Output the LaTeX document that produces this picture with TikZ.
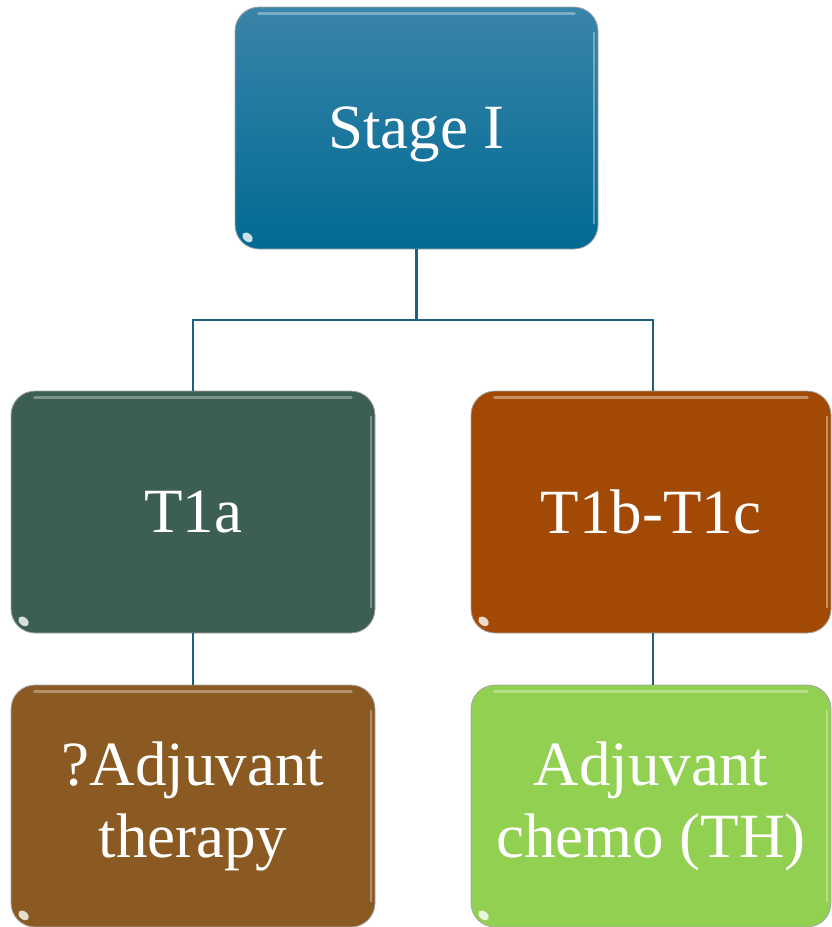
\documentclass[tikz,border=0pt]{standalone}
\usepackage{fontspec}
\setmainfont{Liberation Serif}
\definecolor{stageTop}{RGB}{58,132,168}
\definecolor{stageBot}{RGB}{0,106,148}
\definecolor{tonea}{RGB}{60,94,83}
\definecolor{tonebc}{RGB}{161,73,5}
\definecolor{adjq}{RGB}{139,90,34}
\definecolor{adjc}{RGB}{146,208,82}
\definecolor{linkcol}{RGB}{30,95,126}
\tikzset{
  box/.style={rectangle, rounded corners=24pt, draw=black!35, line width=0.8pt,
    text=white, align=center, inner sep=0pt,
    font=\fontsize{63}{72}\selectfont},
  link/.style={draw=linkcol, line width=2.4pt},
  hl/.style={line width=3pt, line cap=round, opacity=0.55},
  spot/.style={fill=white, opacity=0.8}
}
\begin{document}
\begin{tikzpicture}[x=1pt, y=-1pt]
\useasboundingbox (0,0) rectangle (831,927);
% boxes
\node[box, top color=stageTop, bottom color=stageBot, minimum width=363pt, minimum height=242pt, text depth=0pt] (s) at (416.5,128) {Stage I};
\node[box, fill=tonea, minimum width=364pt, minimum height=242pt] (a) at (193,512) {T1a};
\node[box, fill=tonebc, minimum width=360pt, minimum height=242pt] (b) at (651,512) {T1b-T1c};
\node[box, fill=adjq, minimum width=364pt, minimum height=242pt] (c) at (193,806) {?Adjuvant\\therapy};
\node[box, fill=adjc, minimum width=360pt, minimum height=242pt] (d) at (651,806) {Adjuvant\\chemo (TH)};
% glossy highlights
\foreach \n/\c in {s/stageTop!40!white, a/tonea!40!white, b/tonebc!30!white, c/adjq!40!white, d/adjc!40!white}{
  \draw[hl, draw=\c] ([xshift=24pt, yshift=-7pt]\n.north west) -- ([xshift=-24pt, yshift=-7pt]\n.north east);
  \draw[hl, draw=\c, line width=2pt] ([xshift=-4pt, yshift=-26pt]\n.north east) -- ([xshift=-4pt, yshift=26pt]\n.south east);
  \fill[spot] ([xshift=13pt, yshift=12pt]\n.south west) ellipse [x radius=6pt, y radius=4pt, rotate=-40];
}
% connectors
\coordinate (m) at (416.5,320);
\draw[link] (s.south) -- (m) -- (m -| a.north) -- (a.north);
\draw[link] (m) -- (m -| 653,0) -- ([xshift=2pt]b.north);
\draw[link] (a.south) -- (c.north);
\draw[link] ([xshift=2pt]b.south) -- ([xshift=2pt]d.north);
\end{tikzpicture}
\end{document}
